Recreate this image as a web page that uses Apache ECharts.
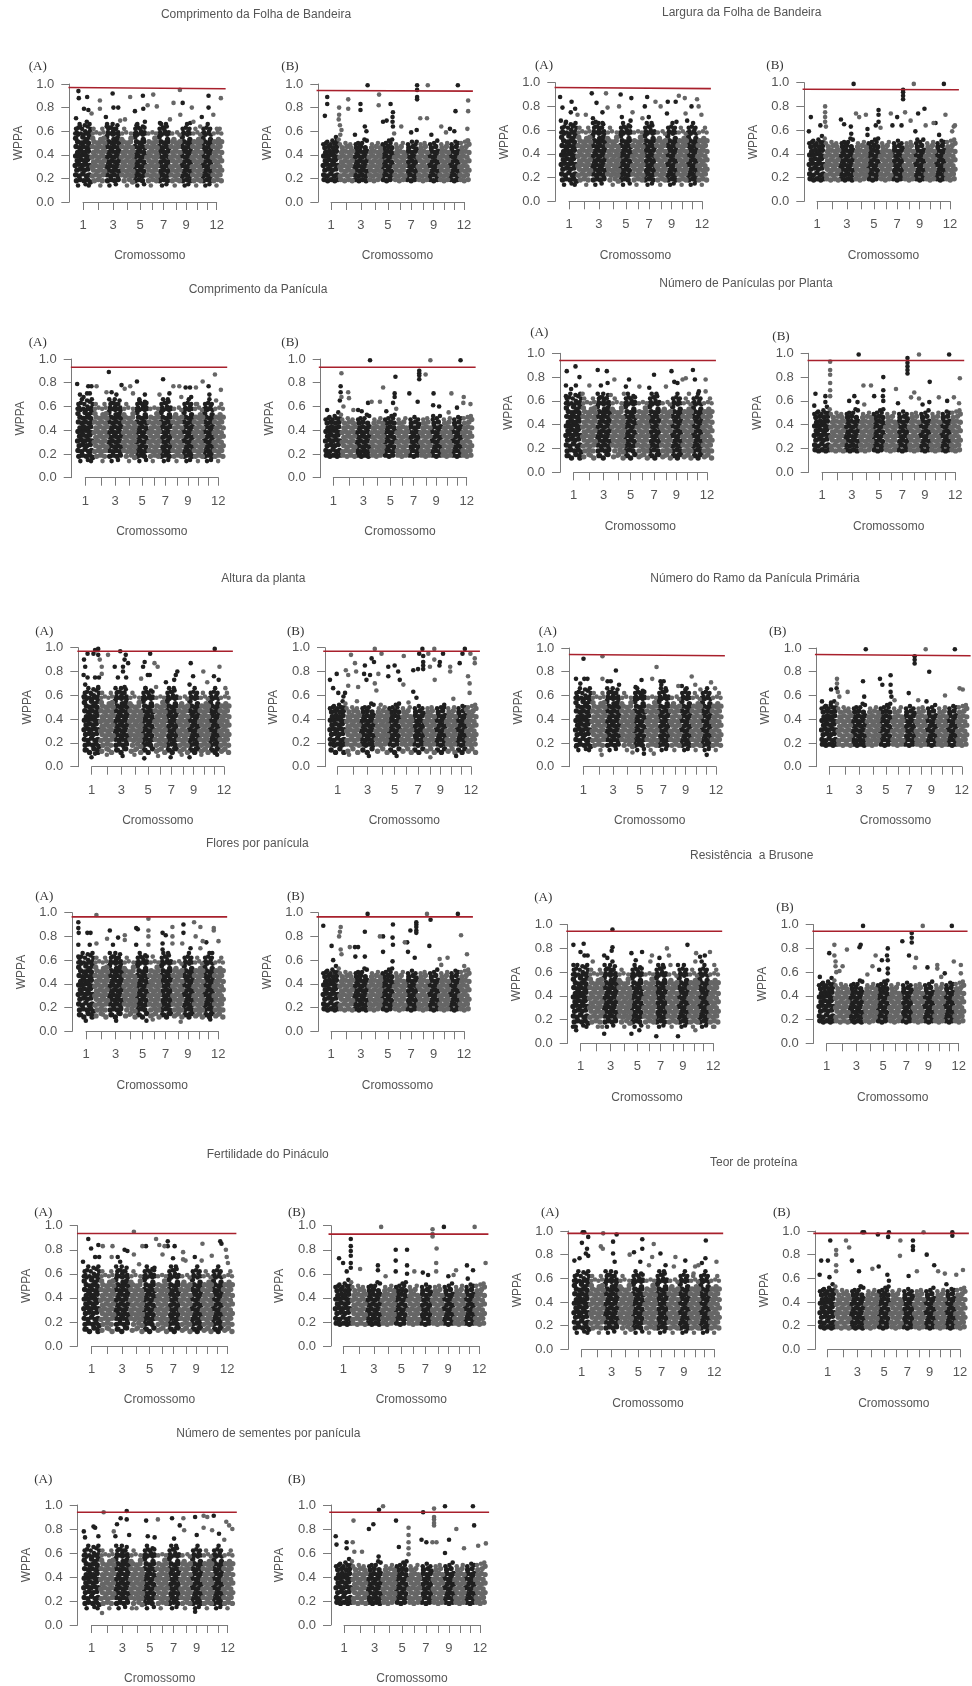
<!DOCTYPE html>
<html><head><meta charset="utf-8">
<style>html,body{margin:0;padding:0;background:#fff}#c{width:972px;height:1686px;filter:blur(0.35px)}</style>
<script src="https://cdn.jsdelivr.net/npm/echarts@6/dist/echarts.min.js"></script>
</head><body><div id="c"></div>
<script>
// x = position along the genome (Mb), y = WPPA in hundredths; flat x,y lists
const chromBounds=[41,79,115,149,180,210,240,268,294,320,345];
const chromCenters=[21.5,61,97,133,165,195.5,224,255,280.5,308,333,357.5];
const chromLabels=['1','','3','','5','','7','','9','','','12'];
const redX=[-15,380];

const bandCore=[3,23,12,22,21,24,30,22,37,23,6,27,15,28,25,27,34,28,2,31,11,32,20,31,29,32,38,31,7,35,16,36,25,35,33,36,3,39,12,39,21,40,30,39,38,38,8,42,17,43,26,42,35,43,
45,22,54,23,63,22,72,23,48,27,58,26,67,27,76,26,44,30,53,31,62,30,71,31,48,34,57,35,66,34,75,35,44,38,53,39,62,38,71,39,48,42,58,43,67,42,76,43,
82,23,91,22,100,23,109,22,86,27,95,26,104,27,112,26,81,30,90,31,99,30,108,31,85,34,94,35,103,34,112,35,81,38,90,39,99,38,108,39,86,42,95,43,104,42,112,43,
119,23,128,22,137,23,145,22,122,27,131,26,140,27,147,26,118,30,127,31,136,30,145,31,122,34,131,35,140,34,147,35,118,38,127,39,136,38,145,39,122,42,131,43,140,42,147,43,
152,22,161,23,170,22,177,23,156,26,165,27,174,26,151,30,160,31,169,30,178,31,156,34,165,35,174,34,151,38,160,39,169,38,178,39,156,42,165,43,174,42,
183,23,192,22,201,23,208,22,187,27,196,26,205,27,182,30,191,31,200,30,208,31,187,35,196,34,205,35,182,38,191,39,200,38,208,39,187,42,196,43,205,42,
213,22,222,23,231,22,238,23,217,26,226,27,235,26,212,31,221,30,230,31,238,30,217,34,226,35,235,34,212,39,221,38,230,39,238,38,217,43,226,42,235,43,
243,23,252,22,261,23,247,27,256,26,265,27,242,30,251,31,260,30,247,35,256,34,265,35,242,38,251,39,260,38,247,42,256,43,265,42,
271,22,280,23,289,22,275,26,284,27,292,26,270,31,279,30,288,31,275,34,284,35,292,34,270,39,279,38,288,39,275,43,284,42,292,43,
297,23,306,22,315,23,301,27,310,26,318,27,296,30,305,31,314,30,301,35,310,34,318,35,296,38,305,39,314,38,301,42,310,43,318,42,
323,22,332,23,341,22,327,26,336,27,343,26,322,31,331,30,340,31,327,34,336,35,343,34,322,39,331,38,340,39,327,43,336,42,343,43,
348,23,357,22,366,23,352,27,361,26,370,27,347,30,356,31,365,30,352,35,361,34,370,35,347,38,356,39,365,38,352,42,361,43,370,42];

const fringeA=[4,47,13,46,22,47,31,46,39,47,8,51,17,50,26,51,35,50,3,54,21,55,30,53,38,55,5,18,14,19,24,18,33,19,40,17,
45,47,54,46,63,47,72,46,49,51,58,50,67,51,76,50,46,54,66,53,74,54,50,18,60,19,70,18,
82,47,91,46,100,47,109,46,86,51,95,50,104,51,112,50,81,55,99,53,108,54,83,18,92,19,101,18,110,19,
119,47,128,46,137,47,145,46,123,51,132,50,141,51,119,53,142,54,125,18,138,19,146,17,
152,47,161,46,170,47,177,46,156,51,165,50,174,51,152,55,173,53,153,18,162,19,171,18,
183,47,192,46,201,47,208,46,187,51,196,50,205,51,202,54,186,18,197,19,206,18,
213,47,222,46,231,47,238,46,217,51,226,50,235,51,213,55,234,53,214,18,224,19,234,18,
243,47,252,46,261,47,247,51,256,50,265,51,250,53,246,18,257,19,264,18,
271,47,280,46,289,47,275,51,284,50,292,51,271,55,290,53,272,18,282,19,291,18,
297,47,306,46,315,47,301,51,310,50,318,51,312,53,300,18,310,19,317,18,
323,47,332,46,341,47,327,51,336,50,343,51,323,54,342,53,324,18,334,19,342,18,
348,47,357,46,366,47,352,51,361,50,370,51,362,53,350,18,360,19,369,18];

const scatterA=[6,59,27,60,37,59,10,63,33,64,9,14,28,15,36,14,65,14,84,59,97,60,110,59,88,63,105,62,88,14,104,15,132,14,155,59,168,60,176,59,160,63,172,64,158,14,175,15,192,14,216,59,228,60,237,59,222,63,232,64,220,14,231,15,252,14,274,59,286,60,280,63,277,14,286,15,306,14,326,59,338,60,332,63,329,14,339,15,369,58,357,14,
2,58,9,57,16,58,23,57,30,58,36,57,40,62,4,62,19,62,26,65,13,66,38,66,83,57,90,58,97,57,104,58,111,57,85,62,93,63,101,62,108,65,96,66,82,66,
151,58,158,57,165,58,172,57,178,58,153,62,165,62,176,63,158,66,212,58,219,57,226,58,233,57,239,58,214,62,226,63,218,66,230,66,
270,57,277,58,284,57,291,58,272,62,289,62,283,66,322,58,329,57,336,58,343,57,324,62,341,62,335,66,
46,58,55,59,64,58,73,59,48,62,70,62,120,58,130,59,142,58,125,62,186,58,196,59,205,58,246,58,258,59,264,57,299,58,309,59,316,57,304,62,350,58,360,59,365,62];

const fringeB=[4,19,13,18,22,19,31,18,39,19,6,46,16,47,27,46,36,47,
46,19,56,18,66,19,75,18,50,46,62,47,72,46,
83,19,92,18,101,19,110,18,86,46,96,47,108,46,
120,19,130,18,140,19,124,46,136,47,146,46,
153,19,162,18,171,19,156,46,166,47,175,46,
184,19,194,18,204,19,188,46,199,47,
214,19,224,18,233,19,218,46,229,47,237,45,
244,19,254,18,263,19,249,46,260,47,
272,19,281,18,290,19,275,46,286,47,
298,19,307,18,316,19,302,46,313,47,
324,19,333,18,341,19,327,46,338,47,
349,19,358,18,368,19,352,46,363,47,370,49];
const scatterB=[9,50,30,50,90,50,160,50,172,50,2,49,12,51,20,49,25,52,38,50,34,55,41,53,44,49,58,50,70,49,84,49,100,50,106,53,112,52,125,49,140,50,152,49,168,52,176,53,186,49,203,50,216,49,226,51,235,49,248,49,258,50,272,49,282,50,290,52,300,49,315,50,326,49,336,51,343,50,350,50,360,51,368,52];

// lower edge of the cloud in the panels whose points reach down to about 0.1
const lowEdge=[5,14,16,12,27,15,37,12,47,13,60,15,72,12,85,14,96,12,108,15,122,13,135,15,146,12,155,14,165,12,176,15,186,13,198,15,207,12,216,14,226,12,236,15,246,13,256,15,265,12,273,14,283,12,291,15,300,13,310,15,317,12,326,14,335,12,342,15,351,13,360,15,369,12];

const folhaCompA=[10,94,11,88,32,89,24,79,35,78,43,75,4,71,64,86,64,79,96,92,98,80,110,80,79,72,140,89,172,90,198,91,152,77,173,79,184,82,207,81,265,95,249,84,272,84,295,80,266,74,337,90,337,80,368,88,320,72,349,74,240,70,215,67,291,67,299,68,115,69,127,70,31,68,14,64,81,64,156,65,177,68,316,64,358,62,39,60,224,62];
const folhaCompB=[6,73,12,89,12,83,42,80,42,74,41,70,44,65,48,61,45,57,65,87,65,79,96,83,96,78,82,57,107,64,111,60,114,99,143,91,142,82,172,83,178,76,177,72,177,68,178,64,181,58,153,68,162,69,199,64,224,59,239,99,239,95,239,89,239,87,247,71,264,71,266,99,238,61,238,51,275,57,300,64,322,62,336,77,342,99,368,86,368,77,366,62,366,52,312,59,333,60,30,50,36,52];
const folhaLargA=[-1,88,5,79,1,68,28,84,37,78,26,75,43,73,14,67,79,91,91,83,82,70,106,75,115,91,119,79,152,90,148,80,179,87,155,71,182,75,219,88,213,80,240,84,223,71,253,80,271,84,291,84,299,89,314,87,331,80,345,86,349,80,356,73,269,74,320,68,316,74,293,67,177,68,207,70,64,73,31,63,89,67,106,66];
const folhaLargB=[6,71,1,59,42,80,42,75,42,71,42,67,44,63,30,64,82,69,90,65,107,63,108,57,114,99,120,74,128,71,145,73,149,61,149,56,177,77,177,73,177,67,170,64,182,62,208,74,224,71,212,64,235,64,239,94,239,92,239,89,239,86,244,75,258,68,277,74,293,78,266,99,270,59,275,52,296,64,316,66,321,66,330,56,346,73,342,99,367,63,363,59,370,64];
const paniCompA=[1,79,8,70,29,77,37,77,17,68,26,71,50,77,33,71,81,89,75,72,88,72,113,78,121,75,135,77,152,81,142,71,172,70,218,83,209,70,234,71,244,77,259,77,275,76,286,76,301,76,318,81,333,77,349,87,364,74,264,68,289,68,335,70,352,65,100,70,174,62,301,62,158,65];
const paniCompB=[6,57,42,88,40,77,40,72,42,68,38,65,47,60,59,72,61,67,84,57,93,56,109,63,118,64,114,99,139,64,147,76,178,85,176,71,176,68,172,63,180,58,213,71,234,64,238,90,238,88,238,86,238,83,254,87,266,99,274,71,273,61,288,60,319,71,333,59,342,99,350,68,367,62,349,63,312,55,273,52,72,57,155,56];
const paniPlantaA=[4,85,2,73,26,89,36,80,15,70,27,73,2,64,82,86,105,85,90,73,107,75,124,78,161,78,153,72,187,72,224,82,212,71,254,72,268,85,275,76,283,75,296,78,304,79,322,86,327,78,354,78,312,66,337,68,354,68,61,73,44,66,115,65,148,66];
const paniPlantaB=[5,66,2,56,42,93,42,86,42,82,42,75,42,69,42,64,30,64,30,59,90,60,103,64,111,59,114,99,126,73,145,73,128,57,176,80,176,69,175,64,176,60,153,64,208,70,213,58,237,96,237,92,237,89,237,86,237,83,254,67,246,63,266,99,266,62,275,57,293,76,292,59,316,63,337,60,342,99,369,79,354,63,367,58];
const alturaA=[11,95,26,95,34,98,38,99,30,98,38,94,42,90,47,84,2,90,5,84,1,77,11,75,30,75,40,75,5,69,1,59,21,61,38,67,63,94,47,78,80,84,94,97,108,94,105,90,101,84,101,80,109,75,114,87,88,75,105,67,156,88,152,84,170,95,147,74,164,77,169,77,181,87,189,84,158,66,235,77,239,80,231,73,273,87,279,76,270,69,334,99,346,84,305,80,315,71,332,76,344,73,361,66,210,71,185,67,21,8,100,9,155,7,222,8,270,8,60,10,130,10,190,9,300,10,340,10,30,11,250,10];
const alturaB=[19,78,42,81,2,73,48,77,10,66,23,62,40,62,36,59,55,94,65,87,68,80,90,85,88,78,107,91,113,88,115,99,103,77,94,73,132,95,124,78,149,84,165,85,174,80,149,76,178,73,187,69,188,93,212,81,224,82,227,95,235,99,237,93,237,88,237,85,237,82,250,95,265,99,254,84,279,88,278,85,265,90,266,73,287,95,305,84,305,80,329,87,336,95,342,99,356,95,367,87,367,91,350,76,354,70,354,62,48,68,73,67,115,70,119,64,212,63,220,58,313,57,30,50,70,55,130,52,200,54,290,50,345,48,100,9,50,10,170,9,255,8,320,9];
const ramoA=[22,91,3,74,14,70,24,74,32,74,70,93,70,74,83,72,91,72,104,81,112,69,169,73,154,67,207,84,196,74,217,72,219,69,225,72,271,68,296,76,305,69,318,65,345,71,355,66,154,62,280,65,171,62,262,68,334,10,68,10,146,12,175,11,200,11,3,17];
const ramoB=[41,74,41,70,26,65,40,66,43,63,47,59,3,55,13,51,26,54,68,63,107,72,114,99,110,59,150,74,156,69,177,77,177,69,177,63,179,59,187,56,223,62,238,93,238,90,238,87,275,80,266,99,247,56,268,55,315,60,340,99,352,66,360,65];
const floresA=[2,92,2,87,3,83,2,73,2,63,25,83,33,83,31,73,48,98,48,74,82,85,75,78,103,79,90,73,120,81,120,77,149,87,153,86,149,73,180,95,180,85,180,80,180,73,216,83,224,81,241,80,216,74,216,69,269,90,269,83,296,92,266,74,287,70,312,88,300,80,318,76,327,75,346,87,346,85,358,76,241,88,241,74,312,70,342,66,191,63,21,9,98,9,175,9,262,8,191,10,337,10];
const floresB=[2,89,23,72,42,80,44,84,46,88,46,69,48,65,27,60,69,71,82,71,90,71,83,63,107,84,107,63,114,99,145,80,153,80,153,67,178,90,177,79,178,73,177,59,208,75,214,75,216,67,222,85,233,62,237,92,237,90,237,88,237,85,237,83,264,99,273,94,270,72,296,61,316,62,342,99,350,81,365,65,358,55,300,56];
const brusoneA=[3,83,29,84,21,77,31,74,3,66,39,74,52,69,102,96,102,81,100,78,81,74,89,72,102,69,150,76,177,77,161,70,198,69,202,74,221,72,245,74,240,80,292,83,249,66,314,76,336,74,349,77,324,73,328,69,312,69,360,66,268,66,81,8,213,6,268,6,150,8,10,11,2,14,76,14,170,11,312,11,360,14];
const brusoneB=[4,56,28,76,41,83,41,74,44,69,44,65,46,60,54,61,62,65,73,79,108,83,105,81,114,99,125,58,146,74,162,70,175,74,177,80,177,70,177,63,177,59,155,62,138,65,214,86,231,74,238,93,238,89,238,85,249,72,246,64,266,99,278,64,303,66,303,63,322,59,340,99,345,69,363,66,363,59,313,56];
const fertilA=[13,89,20,81,0,70,38,84,49,83,30,74,40,74,73,83,71,74,103,80,110,79,126,76,92,70,86,74,126,95,147,83,156,83,181,89,189,84,202,83,210,83,210,87,227,83,223,73,197,76,248,78,248,72,254,71,296,85,277,74,340,87,343,85,354,80,356,74,359,69,319,75,294,71,139,68,177,65];
const fertilB=[11,73,21,69,40,89,40,83,40,79,40,75,40,69,40,65,30,62,63,64,107,67,107,63,115,99,126,58,151,80,151,71,151,62,179,80,179,67,179,60,197,62,218,61,231,59,242,97,242,93,242,91,252,81,251,69,251,62,270,99,281,58,294,59,300,63,327,67,342,63,329,56,346,99,373,69];
const proteinaA=[24,99,28,99,22,90,38,95,35,85,3,75,16,77,32,81,38,79,76,98,70,87,75,85,110,97,101,91,101,81,105,74,175,93,154,82,143,80,175,85,170,74,204,89,200,78,192,71,221,81,234,71,259,78,255,70,284,75,309,70,336,92,335,77,326,73,363,74,317,71,305,64,326,59];
const proteinaB=[5,75,22,75,28,92,43,84,43,80,43,71,1,63,26,61,43,66,68,92,76,86,83,75,101,66,110,99,114,99,105,53,135,68,151,70,149,97,177,99,175,95,173,63,177,58,206,92,205,79,227,62,238,92,238,87,238,84,265,99,273,80,248,66,292,71,302,66,319,64,338,99,338,96,323,55,348,63,365,67];
const sementesA=[51,94,108,95,93,89,108,88,2,78,26,82,30,81,5,73,38,74,84,84,76,78,80,74,114,75,156,87,185,88,160,74,177,73,220,89,239,83,248,89,250,79,225,72,277,90,298,91,307,90,323,91,298,81,319,79,336,76,281,75,354,86,361,83,369,80,349,71,47,10,277,11,121,14];
const sementesB=[1,74,3,67,45,87,28,69,43,69,28,64,47,61,66,61,83,80,94,84,108,96,118,99,107,57,150,87,157,65,181,81,181,75,181,69,181,64,181,59,217,94,244,97,244,90,244,88,244,85,244,83,213,71,225,69,240,69,250,69,271,99,281,71,299,80,340,99,343,83,353,66,372,68,271,60,318,64];

const traitTitles=[
['Comprimento da Folha de Bandeira',256,15.7],['Largura da Folha de Bandeira',741.7,14],
['Comprimento da Panícula',258,290.7],['Número de Panículas por Planta',746,285],
['Altura da planta',263.3,580],['Número do Ramo da Panícula Primária',755,580],
['Flores por panícula',257.3,844.3],['Resistência  a Brusone',751.7,856.7],
['Fertilidade do Pináculo',267.7,1156],['Teor de proteína',753.7,1163.3],
['Número de sementes por panícula',268.3,1435]];

// panel frames: axisX,y1,y0,tick1,tick12,tagX,tagY
const frames=[
[69.3,84,202,83,216.7,37.7,67.7],[318.3,84,202,331,464,290,67.7],
[555.3,82.7,201.3,569,702,544,67],[804.3,82.7,201.3,817,950,775,67],
[71.7,359,477.7,85.3,218.3,37.7,344.3],[320.7,359,477.7,333.3,466.7,290,344.3],
[560,353.3,472.3,573.7,707,539.3,334],[808.7,353.3,472.3,822,955.3,781,337.7],
[78.3,647.7,766.7,91.7,224,44.3,633.3],[325,647.7,766.7,337.7,471,295.7,633.3],
[569.3,648,766.7,583.3,716,547.7,633],[816.7,648,766.7,829.3,962,777.7,633],
[72.3,912.7,1031.3,86,218.3,44.3,898.3],[318.3,912.7,1031.3,331,464,295.7,898.3],
[567.7,924.7,1043.3,580.7,713.3,543.3,899.3],[813.7,924.7,1043.3,826.7,958.7,785,909.3],
[77.7,1225.7,1346,91.7,227.3,43.3,1214],[331,1225.7,1346,343.3,479.3,296.7,1214],
[568.3,1231,1349.3,581.7,714.3,550,1214],[815.3,1231,1349.3,827.7,960,781.7,1214],
[77.7,1505,1625,91.7,227.7,43.3,1480.7],[331,1505,1625,344,480,296.7,1480.7]];
const panelTags=['(A)','(B)','(A)','(B)','(A)','(B)','(A)','(B)','(A)','(B)','(A)','(B)','(A)','(B)','(A)','(B)','(A)','(B)','(A)','(B)','(A)','(B)'];
const panelData=[folhaCompA,folhaCompB,folhaLargA,folhaLargB,paniCompA,paniCompB,paniPlantaA,paniPlantaB,alturaA,alturaB,ramoA,ramoB,floresA,floresB,brusoneA,brusoneB,fertilA,fertilB,proteinaA,proteinaB,sementesA,sementesB];
const lowEdgePanels=[6,8,9,12,16];
const redLines=[[.97,.96],[.945,.94],[.96,.95],[.945,.94],[.93,.93],[.93,.93],[.94,.94],[.94,.94],[.97,.97],[.97,.97],[.945,.935],[.945,.935],[.965,.965],[.965,.965],[.945,.945],[.945,.945],[.935,.935],[.93,.93],[.98,.98],[.98,.98],[.94,.94],[.94,.94]];

const DARK='#1f1f1f',GRAY='#666666',AXIS='#7a7a7a',TXT='#555555';
const chromIndex=x=>{let i=0;while(i<chromBounds.length&&x>=chromBounds[i])i++;return i;};
const split=(lists)=>{const dark=[],gray=[];lists.forEach(arr=>{for(let k=0;k<arr.length;k+=2){const p=[arr[k],arr[k+1]/100];(chromIndex(arr[k])%2===0?dark:gray).push(p);}});return [dark,gray];};
const titles=[],grids=[],xAxes=[],yAxes=[],series=[];
traitTitles.forEach(t=>titles.push({text:t[0],left:t[1],top:t[2]-7,padding:0,textAlign:'center',textStyle:{fontFamily:'Liberation Sans',fontSize:12,fontWeight:'normal',color:TXT}}));
frames.forEach((f,i)=>{
  const [ax,y1,y0,t1,t12,tx,ty]=f;
  titles.push({text:panelTags[i],left:tx,top:ty-8,padding:0,textAlign:'center',textStyle:{fontFamily:'Liberation Serif',fontSize:13,fontWeight:'normal',color:'#333'}});
  grids.push({left:t1,width:t12-t1,top:y1,height:y0-y1,containLabel:false});
  xAxes.push({gridIndex:i,type:'value',min:chromCenters[0],max:chromCenters[11],splitLine:{show:false},
    name:'Cromossomo',nameLocation:'middle',nameGap:48,nameTextStyle:{fontFamily:'Liberation Sans',fontSize:12,color:TXT},
    axisLine:{show:true,lineStyle:{color:AXIS,width:1}},
    axisTick:{show:true,length:8,customValues:chromCenters,lineStyle:{color:AXIS}},
    axisLabel:{margin:17,fontFamily:'Liberation Sans',fontSize:13,color:TXT,customValues:chromCenters.filter((c,k)=>chromLabels[k]),
      formatter:v=>chromLabels[chromCenters.indexOf(v)]}});
  yAxes.push({gridIndex:i,type:'value',min:0,max:1,interval:0.2,position:'left',offset:t1-ax,splitLine:{show:false},
    name:'WPPA',nameLocation:'middle',nameGap:45,nameTextStyle:{fontFamily:'Liberation Sans',fontSize:12,color:TXT},
    axisLine:{show:true,onZero:false,lineStyle:{color:AXIS,width:1}},
    axisTick:{show:true,length:8,lineStyle:{color:AXIS}},
    axisLabel:{margin:15,fontFamily:'Liberation Sans',fontSize:13,color:TXT,formatter:v=>v.toFixed(1)}});
  const isA=i%2===0;
  const bandLists=[bandCore,isA?fringeA:fringeB];
  if(lowEdgePanels.includes(i))bandLists.push(lowEdge);
  const [bandDark,bandGray]=split(bandLists);
  const [dotDark,dotGray]=split([isA?scatterA:scatterB,panelData[i]]);
  const sc=(d,c,s)=>({type:'scatter',xAxisIndex:i,yAxisIndex:i,data:d,symbolSize:s,clip:false,silent:true,animation:false,itemStyle:{color:c,opacity:1}});
  series.push(sc(bandDark,DARK,5.4),sc(bandGray,GRAY,5.4),sc(dotDark,DARK,4.6),sc(dotGray,GRAY,4.6));
  series.push({type:'custom',xAxisIndex:i,yAxisIndex:i,coordinateSystem:'cartesian2d',clip:false,silent:true,animation:false,z:5,
    encode:{x:[0,2],y:[1,3]},data:[[redX[0],redLines[i][0],redX[1],redLines[i][1]]],
    renderItem:(params,api)=>{const a=api.coord([api.value(0),api.value(1)]),b=api.coord([api.value(2),api.value(3)]);
      return {type:'line',shape:{x1:a[0],y1:a[1],x2:b[0],y2:b[1]},style:{stroke:'#a8202c',lineWidth:1.6,fill:null}};}});
});
const chart=echarts.init(document.getElementById('c'),null,{renderer:'canvas'});
chart.setOption({animation:false,backgroundColor:'#fff',title:titles,grid:grids,xAxis:xAxes,yAxis:yAxes,series:series});
</script></body></html>
